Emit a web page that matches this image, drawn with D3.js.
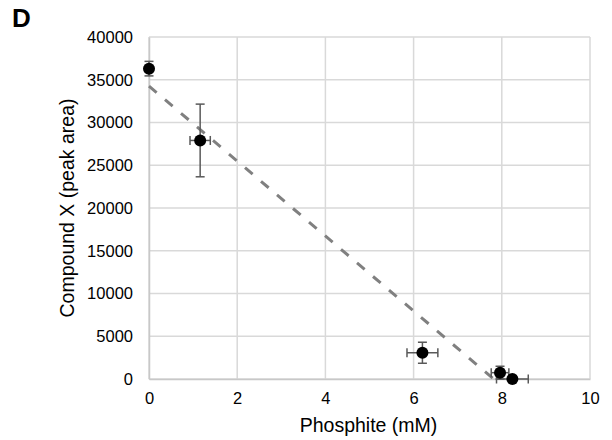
<!DOCTYPE html>
<html>
<head>
<meta charset="utf-8">
<script src="https://cdn.jsdelivr.net/npm/d3@7"></script>
<style>
  body { margin: 0; background: #fff; }
  text { font-family: "Liberation Sans", Arial, sans-serif; fill: #000; }
</style>
</head>
<body>
<div id="chart"></div>
<script>
// Data
const phosphite = [0, 1.16, 6.2, 7.96, 8.24];
const phosphiteErr = [0, 0.23, 0.35, 0.2, 0.36];
const compoundX = [36300, 27900, 3070, 740, 0];
const compoundErr = [850, 4250, 1230, 750, 0];
const xTicks = [0, 2, 4, 6, 8, 10];
const yTicks = [0, 5000, 10000, 15000, 20000, 25000, 30000, 35000, 40000];

const svgWidth = 612, svgHeight = 440;
const margin = { top: 37, right: 22, bottom: 61, left: 149 };
const chartWidth = svgWidth - margin.left - margin.right;
const chartHeight = svgHeight - margin.top - margin.bottom;

const svg = d3.select("#chart").append("svg")
  .attr("width", svgWidth)
  .attr("height", svgHeight);

const chartGroup = svg.append("g")
  .attr("transform", `translate(${margin.left}, ${margin.top})`);

const xScale = d3.scaleLinear().domain([0, 10]).range([0, chartWidth]);
const yScale = d3.scaleLinear().domain([0, 40000]).range([chartHeight, 0]);

// gridlines
chartGroup.selectAll(".vgrid").data(xTicks).enter().append("line")
  .attr("x1", d => xScale(d)).attr("x2", d => xScale(d))
  .attr("y1", 0).attr("y2", chartHeight)
  .attr("stroke", "#d9d9d9").attr("stroke-width", 1.5);
chartGroup.selectAll(".hgrid").data(yTicks).enter().append("line")
  .attr("x1", 0).attr("x2", chartWidth)
  .attr("y1", d => yScale(d)).attr("y2", d => yScale(d))
  .attr("stroke", "#d9d9d9").attr("stroke-width", 1.5);

// axes
const xAxis = d3.axisBottom(xScale).tickValues(xTicks).tickSize(0).tickPadding(13);
const yAxis = d3.axisLeft(yScale).tickValues(yTicks).tickFormat(d3.format("d"))
  .tickSize(0).tickPadding(16);

const gx = chartGroup.append("g")
  .attr("transform", `translate(0,${chartHeight})`)
  .call(xAxis);
const gy = chartGroup.append("g").call(yAxis);
[gx, gy].forEach(g => {
  g.select(".domain").attr("stroke", "#c8c8c8").attr("stroke-width", 1.5);
  g.selectAll("text").style("font-size", "16.5px").attr("fill", "#000")
    .style("font-family", "'Liberation Sans', Arial, sans-serif");
});

// linear trendline (least squares), clipped at y = 0
const n = phosphite.length;
const mx = d3.mean(phosphite), my = d3.mean(compoundX);
let sxy = 0, sxx = 0;
for (let i = 0; i < n; i++) {
  sxy += (phosphite[i] - mx) * (compoundX[i] - my);
  sxx += (phosphite[i] - mx) ** 2;
}
const slope = sxy / sxx, intercept = my - slope * mx;
const xEnd = -intercept / slope;
chartGroup.append("line")
  .attr("x1", xScale(0)).attr("y1", yScale(intercept))
  .attr("x2", xScale(xEnd)).attr("y2", yScale(0))
  .attr("stroke", "#808080").attr("stroke-width", 3)
  .attr("stroke-dasharray", "10,11");

// error bars
const pts = phosphite.map((x, i) => ({ x, y: compoundX[i], ex: phosphiteErr[i], ey: compoundErr[i] }));
const errColor = "#595959";
const cap = 4.5;
const eb = chartGroup.selectAll(".err").data(pts).enter().append("g");
eb.filter(d => d.ey > 0).each(function(d) {
  const g = d3.select(this);
  const x = xScale(d.x), y1 = yScale(d.y - d.ey), y2 = yScale(d.y + d.ey);
  g.append("line").attr("x1", x).attr("x2", x).attr("y1", y1).attr("y2", y2);
  g.append("line").attr("x1", x - cap).attr("x2", x + cap).attr("y1", y1).attr("y2", y1);
  g.append("line").attr("x1", x - cap).attr("x2", x + cap).attr("y1", y2).attr("y2", y2);
});
eb.filter(d => d.ex > 0).each(function(d) {
  const g = d3.select(this);
  const y = yScale(d.y), x1 = xScale(d.x - d.ex), x2 = xScale(d.x + d.ex);
  g.append("line").attr("x1", x1).attr("x2", x2).attr("y1", y).attr("y2", y);
  g.append("line").attr("x1", x1).attr("x2", x1).attr("y1", y - cap).attr("y2", y + cap);
  g.append("line").attr("x1", x2).attr("x2", x2).attr("y1", y - cap).attr("y2", y + cap);
});
eb.selectAll("line").attr("stroke", errColor).attr("stroke-width", 1.5);

// markers
chartGroup.selectAll("circle").data(pts).enter().append("circle")
  .attr("cx", d => xScale(d.x))
  .attr("cy", d => yScale(d.y))
  .attr("r", 6)
  .attr("fill", "#000");

// axis titles
svg.append("text")
  .attr("x", margin.left + chartWidth / 2 - 1).attr("y", 432)
  .attr("text-anchor", "middle")
  .style("font-size", "19.5px")
  .text("Phosphite (mM)");
svg.append("text")
  .attr("transform", `translate(74, ${margin.top + chartHeight / 2}) rotate(-90)`)
  .attr("text-anchor", "middle")
  .style("font-size", "19.5px")
  .text("Compound X (peak area)");

// panel letter
svg.append("text")
  .attr("x", 12).attr("y", 27)
  .style("font-size", "26px").style("font-weight", "bold")
  .text("D");
</script>
</body>
</html>
